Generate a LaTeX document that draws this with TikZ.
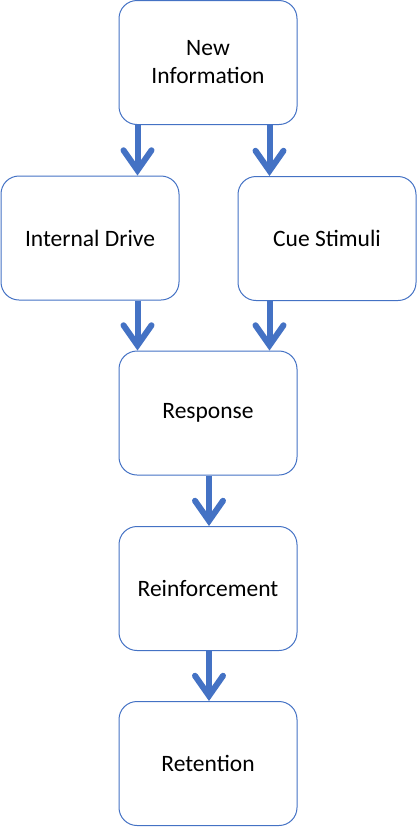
\documentclass[tikz,border=0pt]{standalone}
\usepackage{fontspec}
\setmainfont{Carlito}
\usepackage{tikz}
\usetikzlibrary{arrows.meta,positioning}
\definecolor{boxblue}{HTML}{4472C4}

\begin{document}
\begin{tikzpicture}[x=1pt, y=-1pt, line width=.1ex,
  stage/.style={draw=boxblue, line width=1pt, rounded corners=18pt,
    minimum width=178pt, minimum height=124pt, align=center,
    font=\fontsize{23.5}{28}\selectfont, inner sep=0pt},
  flow/.style={draw=boxblue, line width=6pt,
    -{Straight Barb[length=20pt,width=28pt,line cap=round]}}]
\useasboundingbox (0,0) rectangle (418,828);%%
\node[stage] (info) at (208,62.5) {New\\Information};%%
\node[stage] (drive) at (90,238) {Internal Drive};%%
\node[stage] (cue) at (327,238.5) {Cue Stimuli};%%
\node[stage] (resp) at (208,413) {Response};%%
\node[stage] (reinf) at (208,588.5) {Reinforcement};%%
\node[stage] (ret) at (208,763.5) {Retention};%%
\draw[flow] ([xshift=19pt]info.south west) -- ([xshift=19pt]info.south west |- drive.north);%%
\draw[flow] ([xshift=-28pt]info.south east) -- ([xshift=-28pt]info.south east |- cue.north);%%
\draw[flow] ([xshift=19pt]resp.north west |- drive.south) -- ([xshift=19pt]resp.north west);%%
\draw[flow] ([xshift=-28pt]resp.north east |- cue.south) -- ([xshift=-28pt]resp.north east);%%
\draw[flow] ([xshift=1pt]resp.south) -- ([xshift=1pt]reinf.north);%%
\draw[flow] ([xshift=1pt]reinf.south) -- ([xshift=1pt]ret.north);%%
\end{tikzpicture}
\end{document}
